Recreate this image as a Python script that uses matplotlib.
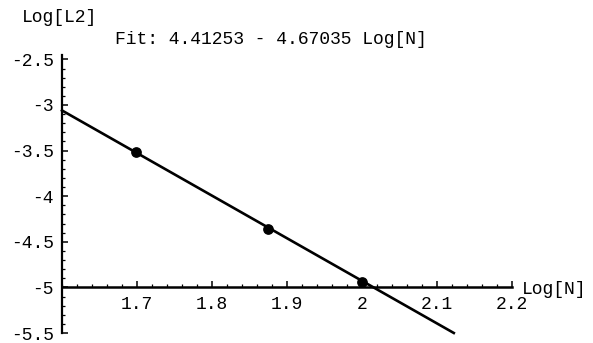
import matplotlib
matplotlib.use("Agg")
import matplotlib.pyplot as plt
from matplotlib.ticker import MultipleLocator, FixedFormatter, FixedLocator

# Data
log_n = [1.69897, 1.87506, 2.0]
log_l2 = [-3.52, -4.36, -4.94]
fit_intercept = 4.41253
fit_slope = -4.67035
fit_x_range = [1.6, 2.1224]
x_ticks = [1.7, 1.8, 1.9, 2.0, 2.1, 2.2]
x_tick_labels = ["1.7", "1.8", "1.9", "2", "2.1", "2.2"]
y_ticks = [-5.5, -5, -4.5, -4, -3.5, -3, -2.5]
y_tick_labels = ["-5.5", "-5", "-4.5", "-4", "-3.5", "-3", "-2.5"]
title = "Fit: 4.41253 - 4.67035 Log[N]"

mono = "Liberation Mono"
fs = 13

fig = plt.figure(figsize=(5.93, 3.43), dpi=100)
ax = fig.add_axes([62/593, 10/343, 450/593, 280/343])
ax.set_xlim(1.6, 2.2)
ax.set_ylim(-5.5, -2.43)

fit_y = [fit_intercept + fit_slope * x for x in fit_x_range]
ax.plot(fit_x_range, fit_y, color="black", lw=1.9, clip_on=False)
ax.scatter(log_n, log_l2, s=45, color="black", zorder=3, clip_on=False)

for s in ["top", "right"]:
    ax.spines[s].set_visible(False)
ax.spines["left"].set_position(("data", 1.6))
ax.spines["bottom"].set_position(("data", -5))
ax.spines["left"].set_bounds(-5.5, -2.45)
ax.spines["bottom"].set_bounds(1.6, 2.2)
ax.spines["left"].set_linewidth(1.6)
ax.spines["bottom"].set_linewidth(1.8)

ax.xaxis.set_major_locator(FixedLocator(x_ticks))
ax.xaxis.set_major_formatter(FixedFormatter(x_tick_labels))
ax.yaxis.set_major_locator(FixedLocator(y_ticks))
ax.yaxis.set_major_formatter(FixedFormatter(y_tick_labels))
ax.xaxis.set_minor_locator(MultipleLocator(0.02))
ax.yaxis.set_minor_locator(MultipleLocator(0.1))
ax.tick_params(axis="both", which="major", direction="in", length=4, width=1.1, pad=6)
ax.tick_params(axis="both", which="minor", direction="in", length=2, width=0.9)
for lab in ax.get_xticklabels() + ax.get_yticklabels():
    lab.set_fontfamily(mono)
    lab.set_fontsize(fs)

fig.text(22/593, 1 - 18/343, "Log[L2]", fontfamily=mono, fontsize=fs, va="center", ha="left")
fig.text(115/593, 1 - 40/343, title, fontfamily=mono, fontsize=fs, va="center", ha="left")
fig.text(522/593, 1 - 290/343, "Log[N]", fontfamily=mono, fontsize=fs, va="center", ha="left")

fig.savefig("out.png", dpi=100)
